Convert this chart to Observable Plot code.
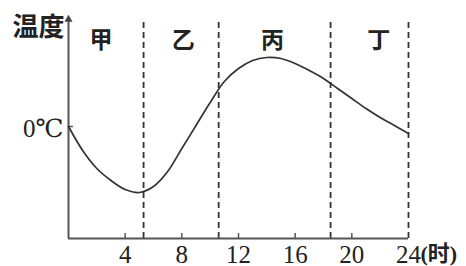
<!DOCTYPE html>
<html><head><meta charset="utf-8">
<script src="https://cdn.jsdelivr.net/npm/d3@7"></script>
<script src="https://cdn.jsdelivr.net/npm/@observablehq/plot@0.6"></script>
<style>body{margin:0;background:#fff}</style>
</head><body><div id="chart"></div>
<script>
const hours = [0,1,2,3,4,5,6,7,8,9,10,11,12,13,14,15,16,17,18,19,20,21,22,23,24];
const temps = [0,-2.4,-4.2,-5.4,-6.3,-6.6,-6.0,-4.5,-2.2,0.1,2.4,4.5,5.8,6.6,6.9,6.8,6.3,5.6,4.8,3.8,2.8,1.8,0.9,0.1,-0.7];
const xTicks = [4,8,12,16,20,24];
const dividers = [5.3,10.6,18.5,24];
const periods = ["甲","乙","丙","丁"];
const periodX = [2.3,8.1,14.4,21.9];
const zeroLabel = "0℃";
const yTitle = "温度";
const xUnit = "(时)";

const yMin = -11.2, yMax = 11.2;
const serif = "Liberation Serif, DejaVu Serif, serif";
const cjk = "Noto Sans CJK SC, sans-serif";
const curveData = hours.map((h,i)=>({h, t: temps[i]}));

const chart = Plot.plot({
  width: 466, height: 266,
  marginLeft: 68, marginRight: 58, marginTop: 14, marginBottom: 28,
  x: {domain: [0,24], axis: null},
  y: {domain: [yMin,yMax], axis: null},
  style: {background: "#fff", fontFamily: serif},
  marks: [
    Plot.ruleX(dividers, {y1: yMin, y2: 10.6, stroke: "#333", strokeWidth: 1.8, strokeDasharray: "6,4"}),
    Plot.ruleY([yMin], {x1: 0, x2: 24, stroke: "#555", strokeWidth: 2}),
    Plot.ruleX([0], {y1: yMin, y2: 10.6, stroke: "#555", strokeWidth: 2}),
    Plot.dot([{x:0,y:10.7}], {x:"x", y:"y", symbol: "triangle", r: 3, fill: "#444", stroke: "none"}),
    Plot.ruleX(xTicks.slice(0,5), {y1: yMin, y2: yMin + 0.5, stroke: "#555", strokeWidth: 1.5}),
    Plot.ruleY([0], {x1: 0, x2: 0.35, stroke: "#555", strokeWidth: 1.5}),
    Plot.line(curveData, {x: "h", y: "t", curve: "catmull-rom", stroke: "#333", strokeWidth: 1.7}),
    Plot.text(xTicks, {x: d=>d, y: yMin, dy: 16, text: d=>String(d), fontSize: 25, fontFamily: serif, fill: "#222"}),
    Plot.text([xUnit], {x: 24, y: yMin, dx: 12, dy: 15, text: d=>d, textAnchor: "start", fontSize: 22, fontFamily: serif + ", " + cjk, fill: "#222", fontWeight: "bold"}),
    Plot.text([zeroLabel], {x: 0, y: 0, dx: -5, dy: 2, text: d=>d, textAnchor: "end", fontSize: 25, fontFamily: serif + ", " + cjk, fill: "#222"}),
    Plot.text([yTitle], {x: 0, y: 9.9, dx: -4, text: d=>d, textAnchor: "end", fontSize: 26, fontFamily: cjk, fontWeight: "bold", fill: "#222"}),
    Plot.text(periods, {x: (d,i)=>periodX[i], y: 8.6, text: d=>d, fontSize: 23, fontFamily: cjk, fontWeight: "bold", fill: "#222"})
  ]
});
document.getElementById("chart").appendChild(chart);
</script>
</body></html>
